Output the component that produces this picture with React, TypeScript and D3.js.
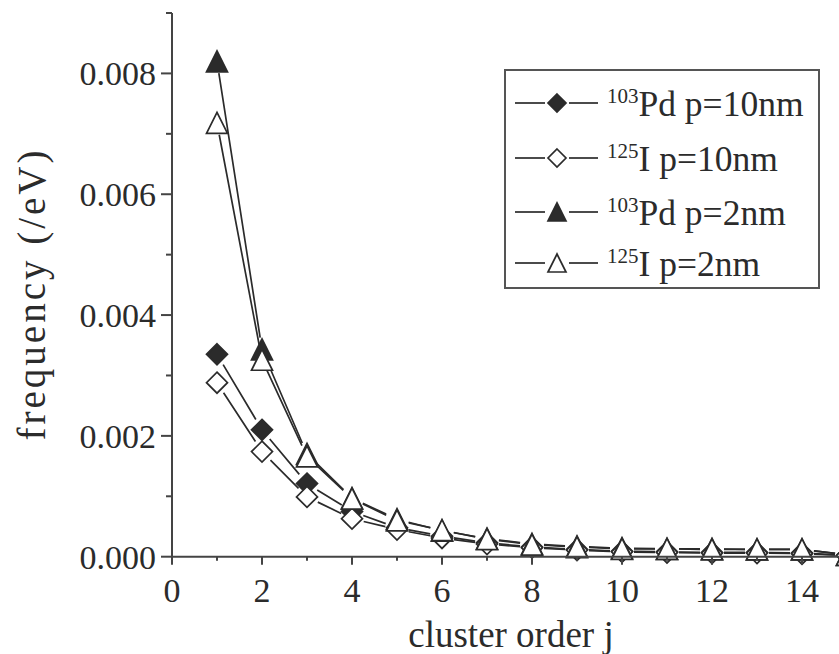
import React from "react";
import * as d3 from "d3";

const clusterOrder = [1, 2, 3, 4, 5, 6, 7, 8, 9, 10, 11, 12, 13, 14, 15];
const pd10 = [0.00335, 0.0021, 0.00121, 0.00075, 0.00048, 0.00034, 0.00023, 0.00016, 0.00012, 0.00009, 0.00008, 0.00007, 0.00007, 0.00006, 0.00002];
const i10 = [0.00288, 0.00174, 0.00099, 0.00063, 0.00045, 0.00031, 0.00021, 0.00015, 0.00011, 0.00008, 0.00007, 0.00006, 0.00006, 0.00005, 0.00002];
const pd2 = [0.0082, 0.00343, 0.0017, 0.00097, 0.00062, 0.00043, 0.0003, 0.00021, 0.00017, 0.00014, 0.00013, 0.00013, 0.00012, 0.00012, 0.00003];
const i2 = [0.00718, 0.00326, 0.00166, 0.00096, 0.0006, 0.00044, 0.00029, 0.0002, 0.00016, 0.00013, 0.00013, 0.00012, 0.00012, 0.00012, 0.00003];

const seriesNames = ["Pd p=10nm", "I p=10nm", "Pd p=2nm", "I p=2nm"];
const seriesIsotopes = ["103", "125", "103", "125"];
const seriesShapes = ["diamond", "diamond", "triangle", "triangle"];
const seriesFilled = [true, false, true, false];
const seriesValues = [pd10, i10, pd2, i2];

const yMajorTicks = [0, 0.002, 0.004, 0.006, 0.008];
const yMinorTicks = [0.001, 0.003, 0.005, 0.007, 0.009];
const xMajorTicks = [0, 2, 4, 6, 8, 10, 12, 14];
const xMinorTicks = [1, 3, 5, 7, 9, 11, 13];

const FONT = "'Liberation Serif', 'Times New Roman', serif";
const INK = "#2b2b2b";

function markerPath(shape: string, s: number) {
  const h = s / 2;
  if (shape === "diamond") {
    return `M0,${-h}L${h},0L0,${h}L${-h},0Z`;
  }
  return `M0,${-h}L${h},${h}L${-h},${h}Z`;
}

export default function App() {
  const W = 839;
  const H = 654;
  const x = d3.scaleLinear().domain([0, 15]).range([172, 847]);
  const y = d3.scaleLinear().domain([0, 0.009]).range([556.7, 13]);
  const x0 = x(0);
  const y0 = y(0);
  const gap = 12;

  const segments = (vals: number[]) => {
    const segs: string[] = [];
    for (let i = 0; i < vals.length - 1; i++) {
      const ax = x(clusterOrder[i]);
      const ay = y(vals[i]);
      const bx = x(clusterOrder[i + 1]);
      const by = y(vals[i + 1]);
      const dx = bx - ax;
      const dy = by - ay;
      const len = Math.hypot(dx, dy);
      if (len <= 2 * gap) continue;
      const ux = dx / len;
      const uy = dy / len;
      segs.push(`M${ax + ux * gap},${ay + uy * gap}L${bx - ux * gap},${by - uy * gap}`);
    }
    return segs.join("");
  };

  const legendX = 505;
  const legendY = 70;
  const legendRows = [103, 158, 212, 263];

  return (
    <svg
      width={W}
      height={H}
      style={{ position: "absolute", left: 0, top: 0, background: "#fff" }}
      fontFamily={FONT}
    >
      <rect x={0} y={0} width={W} height={H} fill="#fff" />
      {/* series */}
      {seriesValues.map((vals, si) => (
        <g key={si}>
          <path d={segments(vals)} fill="none" stroke={INK} strokeWidth={1.7} />
          {vals.map((v, i) => (
            <path
              key={i}
              d={markerPath(seriesShapes[si], 21)}
              transform={`translate(${x(clusterOrder[i])},${y(v)})`}
              fill={seriesFilled[si] ? INK : "#fff"}
              stroke={INK}
              strokeWidth={1.7}
            />
          ))}
        </g>
      ))}
      {/* axes */}
      <line x1={x0} x2={x0} y1={y(0.009)} y2={y0} stroke="#444" strokeWidth={2} />
      <line x1={x0} x2={W} y1={y0} y2={y0} stroke="#444" strokeWidth={2} />
      {yMajorTicks.map((t) => (
        <g key={"ym" + t}>
          <line x1={x0 - 11} x2={x0} y1={y(t)} y2={y(t)} stroke="#444" strokeWidth={2} />
          <text x={156} y={y(t)} dy="0.35em" textAnchor="end" fontSize={34} fill={INK}>
            {t.toFixed(3)}
          </text>
        </g>
      ))}
      {yMinorTicks.map((t) => (
        <line key={"yn" + t} x1={x0 - 6} x2={x0} y1={y(t)} y2={y(t)} stroke="#444" strokeWidth={2} />
      ))}
      {xMajorTicks.map((t) => (
        <g key={"xm" + t}>
          <line x1={x(t)} x2={x(t)} y1={y0} y2={y0 + 8} stroke="#444" strokeWidth={2} />
          <text x={x(t)} y={602} textAnchor="middle" fontSize={34} fill={INK}>
            {t}
          </text>
        </g>
      ))}
      {xMinorTicks.map((t) => (
        <line key={"xn" + t} x1={x(t)} x2={x(t)} y1={y0} y2={y0 + 4} stroke="#444" strokeWidth={2} />
      ))}
      <text x={511} y={647} textAnchor="middle" fontSize={37} fill={INK}>
        cluster order j
      </text>
      <text
        transform={`translate(45,294) rotate(-90)`}
        textAnchor="middle"
        fontSize={39}
        letterSpacing={3}
        fill={INK}
      >
        frequency (/eV)
      </text>
      {/* legend */}
      <rect x={legendX} y={legendY} width={314} height={218} fill="#fff" stroke="#555" strokeWidth={2} />
      {legendRows.map((ry, i) => (
        <g key={"lg" + i}>
          <line x1={515} x2={545} y1={ry} y2={ry} stroke={INK} strokeWidth={1.7} />
          <line x1={569} x2={598} y1={ry} y2={ry} stroke={INK} strokeWidth={1.7} />
          <path
            d={markerPath(seriesShapes[i], 18)}
            transform={`translate(557,${ry})`}
            fill={seriesFilled[i] ? INK : "#fff"}
            stroke={INK}
            strokeWidth={1.7}
          />
          <text x={607} y={ry + 13} fill={INK}>
            <tspan fontSize={21} dy={-13}>{seriesIsotopes[i]}</tspan>
            <tspan fontSize={35.5} dy={13}>{seriesNames[i]}</tspan>
          </text>
        </g>
      ))}
    </svg>
  );
}
